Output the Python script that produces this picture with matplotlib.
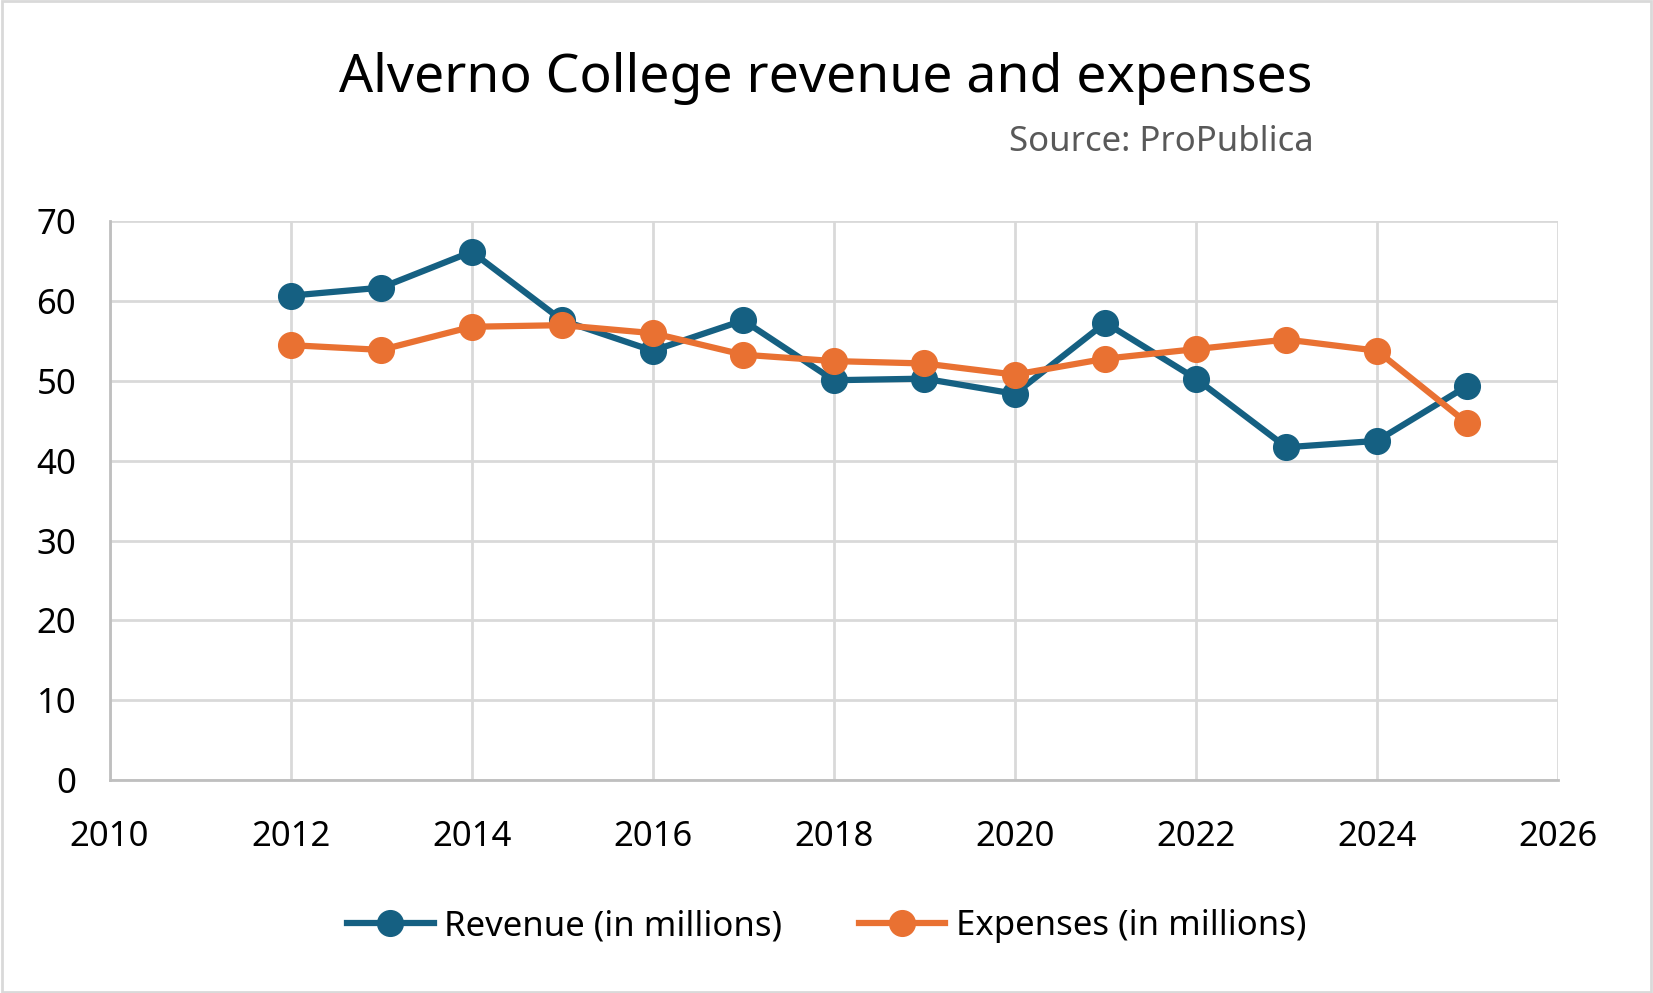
import matplotlib.pyplot as plt
from matplotlib.patches import Rectangle

plt.rcParams['font.family'] = ['Noto Sans', 'DejaVu Sans']

# Data
years = [2012, 2013, 2014, 2015, 2016, 2017, 2018, 2019, 2020, 2021, 2022, 2023, 2024, 2025]
revenue = [60.7, 61.7, 66.2, 57.6, 53.8, 57.6, 50.1, 50.3, 48.4, 57.3, 50.3, 41.7, 42.5, 49.4]
expenses = [54.5, 53.9, 56.8, 57.0, 56.0, 53.3, 52.5, 52.2, 50.8, 52.8, 54.0, 55.2, 53.8, 44.7]
x_ticks = list(range(2010, 2027, 2))
y_ticks = list(range(0, 71, 10))

blue = '#156082'
orange = '#E97132'
grid_gray = '#D9D9D9'

fig = plt.figure(figsize=(16.53, 9.93), dpi=100)
ax = fig.add_axes([0.0663, 0.2145, 0.8762, 0.5625])

ax.plot(years, revenue, color=blue, lw=4.5, marker='o', ms=18.5,
        label='Revenue (in millions)', zorder=3)
ax.plot(years, expenses, color=orange, lw=4.5, marker='o', ms=18.5,
        label='Expenses (in millions)', zorder=3)

ax.set_xlim(2010, 2026)
ax.set_ylim(0, 70)
ax.set_xticks(x_ticks)
ax.set_yticks(y_ticks)
ax.tick_params(axis='both', length=0, labelsize=25, colors='black')
ax.tick_params(axis='y', pad=24)
ax.tick_params(axis='x', pad=29)
ax.grid(True, color=grid_gray, lw=2)
ax.set_axisbelow(True)
for s in ['top', 'right']:
    ax.spines[s].set_visible(False)
for s in ['left', 'bottom']:
    ax.spines[s].set_color('#BFBFBF')
    ax.spines[s].set_linewidth(2)

fig.text(0.4995, 0.921, 'Alverno College revenue and expenses',
         ha='center', va='center', fontsize=38.5)
fig.text(0.7945, 0.857, 'Source: ProPublica', ha='right', va='center',
         fontsize=25, color='#595959')

fig.legend(loc='center', bbox_to_anchor=(0.5, 0.067), ncol=2, frameon=False,
           fontsize=25, handlelength=2.5, columnspacing=2.2, handletextpad=0.3)

fig.patches.append(Rectangle((0.001, 0.001), 0.998, 0.998, transform=fig.transFigure,
                             fill=False, edgecolor=grid_gray, lw=2))

fig.savefig('out.png', dpi=100, facecolor='white')
